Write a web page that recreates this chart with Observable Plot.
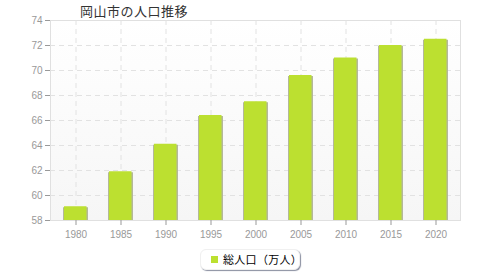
<!DOCTYPE html>
<html><head><meta charset="utf-8">
<script src="https://cdn.jsdelivr.net/npm/d3@7"></script>
<script src="https://cdn.jsdelivr.net/npm/@observablehq/plot@0.6"></script>
<style>
body{margin:0;background:#fff;}
#wrap{position:relative;width:480px;height:280px;font-family:"Noto Sans CJK JP",sans-serif;}
#title{position:absolute;left:80px;top:1px;font-size:13px;color:#333;letter-spacing:0.5px;}
#legend{position:absolute;left:200px;top:249px;width:98px;height:19px;border-radius:6px;background:#fff;box-shadow:1px 1px 1px #8a8fa0;border:1px solid #f0f0f0;font-size:11px;color:#000;}
#legend .sw{position:absolute;left:10px;top:6px;width:7px;height:7px;background:#bce030;}
#legend .tx{position:absolute;left:22px;top:1px;letter-spacing:0.3px;}
</style></head>
<body><div id="wrap"><div id="chart"></div><div id="title">岡山市の人口推移</div><div id="legend"><div class="sw"></div><div class="tx">総人口（万人）</div></div></div>
<script>
const years = ["1980","1985","1990","1995","2000","2005","2010","2015","2020"];
const population = [59.1, 61.9, 64.1, 66.4, 67.5, 69.6, 71.0, 72.0, 72.5];
const yTicks = [58,60,62,64,66,68,70,72,74];
const gridTicks = [60,62,64,66,68,70,72];
const seriesName = "総人口（万人）";
const data = years.map((y,i)=>({year:y, value:population[i]}));

const chart = Plot.plot({
  width:480, height:280,
  marginLeft:50, marginRight:20, marginTop:20, marginBottom:60,
  style:{fontFamily:"Liberation Sans, sans-serif", fontSize:"10px", background:"transparent"},
  x:{type:"band", domain:years, paddingInner:0.5, paddingOuter:0.25, label:null},
  y:{domain:[58,74], label:null},
  marks:[
    Plot.frame({fill:"url(#bggrad)", stroke:"#e0e0e0"}),
    Plot.gridX({stroke:"#e2e2e2", strokeOpacity:1, strokeDasharray:"5,4"}),
    Plot.gridY(gridTicks, {stroke:"#e2e2e2", strokeOpacity:1, strokeDasharray:"5,4"}),
    Plot.barY(data, {x:"year", y1:58, y2:"value", fill:"#b4b89a", insetLeft:-1, insetRight:-1, insetTop:1}),
    Plot.barY(data, {x:"year", y1:58, y2:"value", fill:"#bce030", insetRight:0.5}),
    Plot.axisY(yTicks, {tickSize:5, tickPadding:3, stroke:"#999", color:"#999", fill:"#999", line:true, label:null, style:{letterSpacing:"0.8px"}}),
    Plot.axisX({tickSize:5, tickPadding:5, stroke:"#999", fill:"#999", line:true, label:null, style:{letterSpacing:"0.8px"}})
  ]
});
const ns = "http://www.w3.org/2000/svg";
const defs = document.createElementNS(ns,"defs");
defs.innerHTML = '<linearGradient id="bggrad" x1="0" y1="0" x2="0" y2="1"><stop offset="0" stop-color="#ffffff"/><stop offset="1" stop-color="#f6f6f6"/></linearGradient>';
chart.insertBefore(defs, chart.firstChild);
document.getElementById("chart").appendChild(chart);
</script></body></html>
